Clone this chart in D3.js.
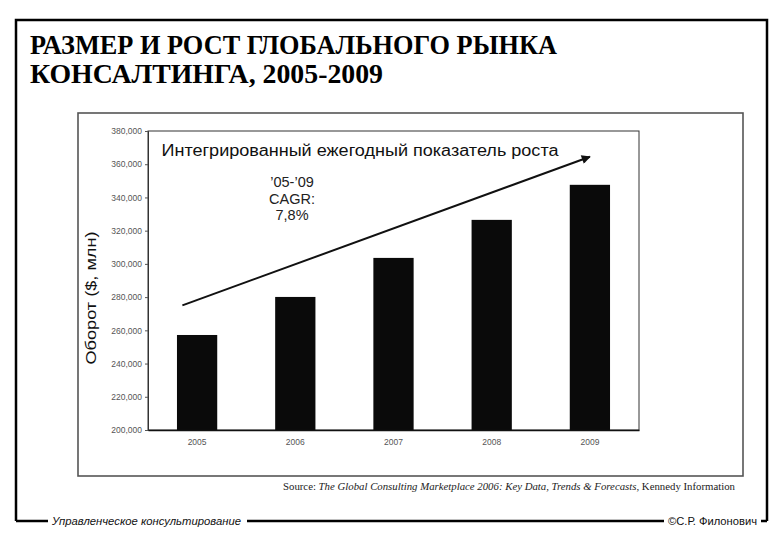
<!DOCTYPE html>
<html>
<head>
<meta charset="utf-8">
<script src="https://cdn.jsdelivr.net/npm/d3@7"></script>
<style>
  body { margin: 0; background: #fff; }
  svg { display: block; }
  .tick text { font-family: "Liberation Sans", Arial, sans-serif; }
</style>
</head>
<body>
<svg id="chart" width="780" height="540"></svg>
<script>
  // данные графика
  const years = ["2005", "2006", "2007", "2008", "2009"];
  const turnover = [257200, 280100, 303600, 326500, 347600];
  const yTicks = [200000, 220000, 240000, 260000, 280000, 300000, 320000, 340000, 360000, 380000];
  const titleLines = ["РАЗМЕР И РОСТ ГЛОБАЛЬНОГО РЫНКА", "КОНСАЛТИНГА, 2005-2009"];
  const cagrLines = ["’05-’09", "CAGR:", "7,8%"];
  // стрелка роста: [индекс года (дробный), значение]
  const arrowFrom = [-0.15, 275000];
  const arrowTo = [4.0, 364500];

  const svg = d3.select("#chart");

  // внешняя рамка слайда (с разрывами под подписи внизу)
  const frame = svg.append("g").attr("stroke", "#000").attr("stroke-width", 2.5).attr("fill", "none");
  frame.append("path").attr("d", "M16,521 V20 H767 V521");
  frame.append("path").attr("d", "M16,521 H48 M247,521 H664 M761,521 H767");

  // заголовок
  svg.append("g").selectAll("text")
    .data(titleLines)
    .join("text")
    .attr("x", 30)
    .attr("y", (d, i) => 54 + i * 29)
    .attr("font-family", "'Liberation Serif', 'DejaVu Serif', serif")
    .attr("font-weight", "bold")
    .attr("font-size", 27)
    .attr("textLength", (d, i) => (i === 0 ? 527 : 353))
    .attr("lengthAdjust", "spacingAndGlyphs")
    .attr("fill", "#000")
    .text((d) => d);

  // рамка вставленного рисунка
  svg.append("rect")
    .attr("x", 78).attr("y", 113).attr("width", 665).attr("height", 363)
    .attr("fill", "#fff").attr("stroke", "#555").attr("stroke-width", 1.6);

  const x = d3.scaleBand().domain(years).range([148, 639]).paddingInner(0.59).paddingOuter(0.295);
  const y = d3.scaleLinear().domain([200000, 380000]).range([430, 131]);

  // рамка области построения
  svg.append("rect")
    .attr("x", 148).attr("y", y(380000)).attr("width", 639 - 148).attr("height", y(200000) - y(380000))
    .attr("fill", "none").attr("stroke", "#333").attr("stroke-width", 1);

  // столбцы
  svg.append("g").selectAll("rect")
    .data(years.map((yr, i) => ({ yr, v: turnover[i] })))
    .join("rect")
    .attr("x", (d) => x(d.yr))
    .attr("width", x.bandwidth())
    .attr("y", (d) => y(d.v))
    .attr("height", (d) => y(200000) - y(d.v))
    .attr("fill", "#0a0a0a");

  // оси
  const yAxis = svg.append("g")
    .attr("transform", "translate(148,0)")
    .call(d3.axisLeft(y).tickValues(yTicks).tickFormat(d3.format(",")).tickSize(3).tickPadding(3));
  yAxis.select(".domain").attr("stroke", "#333");
  yAxis.selectAll(".tick line").attr("stroke", "#555");
  yAxis.selectAll(".tick text").attr("font-size", 8.5).attr("fill", "#555");

  const xAxis = svg.append("g")
    .attr("transform", `translate(0,${y(200000)})`)
    .call(d3.axisBottom(x).tickSize(0).tickPadding(9));
  xAxis.select(".domain").attr("stroke", "#111").attr("stroke-width", 1.5);
  xAxis.selectAll(".tick text").attr("font-size", 8.5).attr("fill", "#555");

  // подпись оси Y
  svg.append("text")
    .attr("transform", "translate(96,298) rotate(-90)")
    .attr("text-anchor", "middle")
    .attr("font-family", "'Liberation Sans', Arial, sans-serif")
    .attr("font-size", 15)
    .attr("textLength", 133).attr("lengthAdjust", "spacingAndGlyphs")
    .attr("fill", "#111")
    .text("Оборот ($, млн)");

  // стрелка роста
  const xi = (t) => x(years[0]) + x.bandwidth() / 2 + t * x.step();
  svg.append("defs").append("marker")
    .attr("id", "arrowhead")
    .attr("viewBox", "0 0 10 10").attr("refX", 9).attr("refY", 5)
    .attr("markerWidth", 5.5).attr("markerHeight", 4.5).attr("orient", "auto")
    .append("path").attr("d", "M0,0 L10,5 L0,10 Z").attr("fill", "#111");
  svg.append("line")
    .attr("x1", xi(arrowFrom[0])).attr("y1", y(arrowFrom[1]))
    .attr("x2", xi(arrowTo[0])).attr("y2", y(arrowTo[1]))
    .attr("stroke", "#111").attr("stroke-width", 2)
    .attr("marker-end", "url(#arrowhead)");

  svg.append("text")
    .attr("x", 360).attr("y", 156)
    .attr("text-anchor", "middle")
    .attr("font-family", "'Liberation Sans', Arial, sans-serif")
    .attr("font-size", 16)
    .attr("textLength", 397).attr("lengthAdjust", "spacingAndGlyphs")
    .attr("fill", "#111")
    .text("Интегрированный ежегодный показатель роста");

  svg.append("g").selectAll("text")
    .data(cagrLines)
    .join("text")
    .attr("x", 292)
    .attr("y", (d, i) => 187 + i * 16.5)
    .attr("text-anchor", "middle")
    .attr("font-family", "'Liberation Sans', Arial, sans-serif")
    .attr("font-size", 14.5)
    .attr("fill", "#222")
    .text((d) => d);

  // источник
  const src = svg.append("text")
    .attr("x", 283).attr("y", 490)
    .attr("font-family", "'Liberation Serif', 'Times New Roman', serif")
    .attr("font-size", 10)
    .attr("fill", "#222")
    .attr("textLength", 452).attr("lengthAdjust", "spacingAndGlyphs");
  src.append("tspan").text("Source: ");
  src.append("tspan").attr("font-style", "italic").text("The Global Consulting Marketplace 2006: Key Data, Trends & Forecasts");
  src.append("tspan").text(", Kennedy Information");

  // подвал
  svg.append("text")
    .attr("x", 52).attr("y", 525)
    .attr("font-family", "'Liberation Sans', Arial, sans-serif")
    .attr("font-size", 10.5).attr("font-style", "italic")
    .attr("textLength", 189).attr("lengthAdjust", "spacingAndGlyphs")
    .attr("fill", "#111")
    .text("Управленческое консультирование");
  svg.append("text")
    .attr("x", 668).attr("y", 525)
    .attr("font-family", "'Liberation Sans', Arial, sans-serif")
    .attr("font-size", 10.5)
    .attr("textLength", 89).attr("lengthAdjust", "spacingAndGlyphs")
    .attr("fill", "#111")
    .text("©С.Р. Филонович");
</script>
</body>
</html>
